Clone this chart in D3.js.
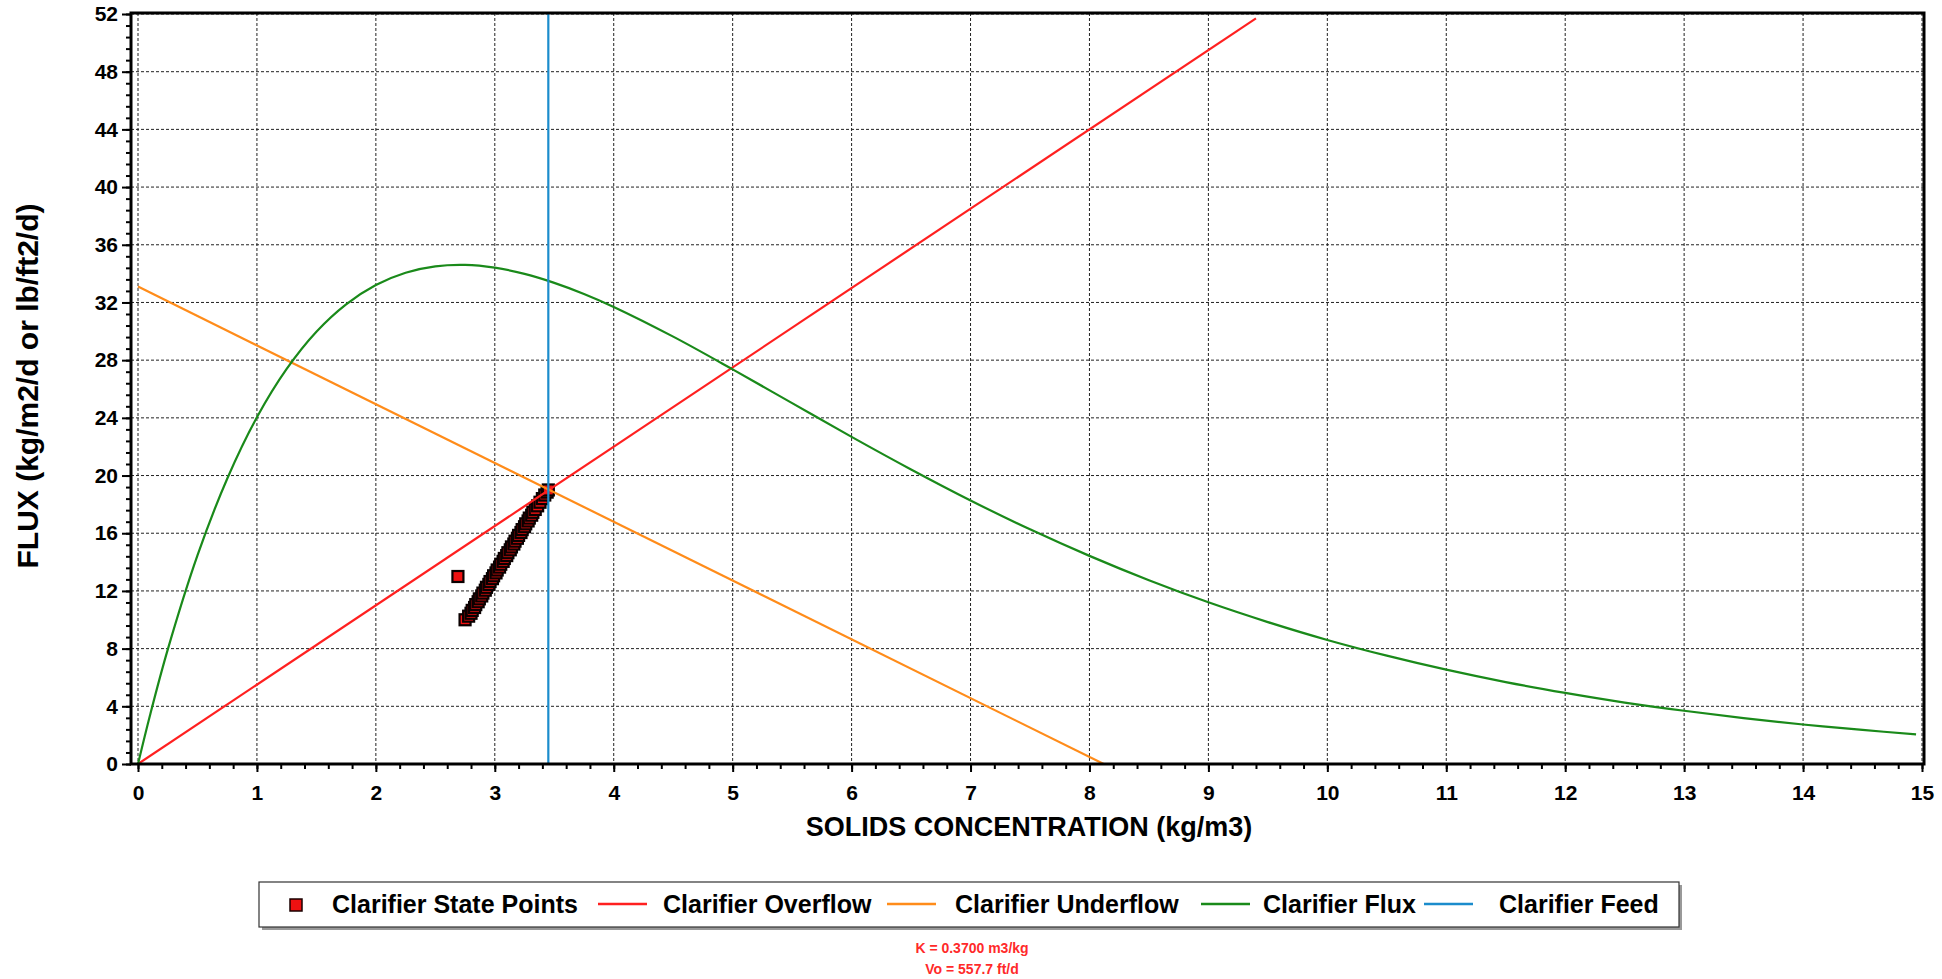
<!DOCTYPE html>
<html>
<head>
<meta charset="utf-8">
<script src="https://cdn.jsdelivr.net/npm/d3@7"></script>
<style>
  html, body { margin: 0; padding: 0; background: #ffffff; }
  svg { display: block; }
  text { font-family: "Liberation Sans", Arial, sans-serif; font-weight: bold; }
</style>
</head>
<body>
<svg id="chart" width="1942" height="979"></svg>
<script>
// ---- data ----
const xTickValues = [0,1,2,3,4,5,6,7,8,9,10,11,12,13,14,15];
const yTickValues = [0,4,8,12,16,20,24,28,32,36,40,44,48,52];

const fluxConc = [0,0.1,0.25,0.5,0.75,1,1.25,1.5,1.75,2,2.25,2.5,2.75,3,3.25,3.5,3.75,4,4.5,5,5.5,6,6.5,7,7.5,8,8.5,9,9.5,10,10.5,11,11.5,12,12.5,13,13.5,14,14.5,14.95];
const fluxValues = [0,3.35,7.93,14.46,19.78,24.04,27.39,29.97,31.87,33.21,34.06,34.50,34.60,34.41,33.98,33.36,32.59,31.69,29.63,27.36,25.02,22.68,20.42,18.27,16.27,14.43,12.74,11.21,9.84,8.60,7.51,6.54,5.68,4.93,4.26,3.69,3.18,2.74,2.36,2.06];

const overflowConc = [0, 9.4];
const overflowFlux = [0, 51.7];

const underflowConc = [0, 8.12];
const underflowFlux = [33.1, 0];

const feedConc = [3.45, 3.45];
const feedFlux = [0, 52];

const stateConc = [2.69,2.75,2.78,2.80,2.81,2.83,2.84,2.86,2.87,2.89,2.90,2.92,2.93,2.95,2.96,2.98,2.99,3.01,3.02,3.04,3.05,3.07,3.08,3.10,3.11,3.13,3.14,3.16,3.17,3.19,3.20,3.22,3.23,3.25,3.26,3.28,3.29,3.31,3.32,3.34,3.36,3.38,3.40,3.42,3.44,3.45];
const stateFlux = [13.0,10.0,10.25,10.45,10.65,10.85,11.05,11.25,11.45,11.65,11.85,12.05,12.25,12.45,12.65,12.85,13.05,13.25,13.45,13.65,13.85,14.05,14.25,14.45,14.65,14.85,15.05,15.25,15.45,15.65,15.85,16.05,16.25,16.45,16.65,16.85,17.05,17.25,17.45,17.65,17.9,18.15,18.4,18.65,18.85,19.0];

const legendLabels = ["Clarifier State Points","Clarifier Overflow","Clarifier Underflow","Clarifier Flux","Clarifier Feed"];
const seriesColors = ["#ee1111","#ff2020","#ff8c1a","#1a8a1a","#1b8ccc"];
const annotationLines = ["K  = 0.3700 m3/kg","Vo = 557.7 ft/d"];

// ---- layout ----
const svg = d3.select("#chart");
const frame = {left: 131, right: 1924, top: 13, bottom: 764};
const x = d3.scaleLinear().domain([0, 15]).range([138, 1922]);
const y = d3.scaleLinear().domain([0, 52]).range([764, 14]);

// grid
const grid = svg.append("g").attr("stroke", "#222").attr("stroke-width", 1).attr("stroke-dasharray", "3,2");
grid.selectAll("line.v").data(xTickValues).join("line")
  .attr("x1", d => x(d)).attr("x2", d => x(d))
  .attr("y1", frame.top).attr("y2", frame.bottom);
grid.selectAll("line.h").data(yTickValues).join("line")
  .attr("x1", frame.left).attr("x2", frame.right)
  .attr("y1", d => y(d)).attr("y2", d => y(d));

// state points (drawn under lines)
const ms = 11;
svg.append("g").selectAll("rect").data(stateConc.map((c, i) => [c, stateFlux[i]])).join("rect")
  .attr("x", d => x(d[0]) - ms / 2).attr("y", d => y(d[1]) - ms / 2)
  .attr("width", ms).attr("height", ms)
  .attr("fill", seriesColors[0]).attr("stroke", "#0a0000").attr("stroke-width", 2.2);

function drawSeries(cs, vs, color, curve) {
  const line = d3.line().x(d => x(d[0])).y(d => y(d[1])).curve(curve || d3.curveLinear);
  svg.append("path").datum(cs.map((c, i) => [c, vs[i]]))
    .attr("d", line).attr("fill", "none").attr("stroke", color).attr("stroke-width", 2.2);
}
drawSeries(overflowConc, overflowFlux, seriesColors[1]);
drawSeries(underflowConc, underflowFlux, seriesColors[2]);
drawSeries(fluxConc, fluxValues, seriesColors[3], d3.curveCatmullRom.alpha(0.5));
drawSeries(feedConc, feedFlux, seriesColors[4]);

// frame
svg.append("rect").attr("x", frame.left).attr("y", frame.top)
  .attr("width", frame.right - frame.left).attr("height", frame.bottom - frame.top)
  .attr("fill", "none").attr("stroke", "#000").attr("stroke-width", 3);

// axes
const yMinor = d3.range(0, 52.01, 0.8);
const xMinor = d3.range(0, 15.01, 0.2);
const yAxisMinor = svg.append("g").attr("transform", `translate(${frame.left},0)`)
  .call(d3.axisLeft(y).tickValues(yMinor).tickSize(5).tickFormat(""));
const yAxis = svg.append("g").attr("transform", `translate(${frame.left},0)`)
  .call(d3.axisLeft(y).tickValues(yTickValues).tickSize(9).tickPadding(4).tickFormat(d3.format("d")));
const xAxisMinor = svg.append("g").attr("transform", `translate(0,${frame.bottom})`)
  .call(d3.axisBottom(x).tickValues(xMinor).tickSize(5).tickFormat(""));
const xAxis = svg.append("g").attr("transform", `translate(0,${frame.bottom})`)
  .call(d3.axisBottom(x).tickValues(xTickValues).tickSize(8).tickPadding(13).tickFormat(d3.format("d")));
[yAxisMinor, yAxis, xAxisMinor, xAxis].forEach(g => {
  g.select(".domain").remove();
  g.selectAll(".tick line").attr("stroke", "#000").attr("stroke-width", 2);
});
[yAxis, xAxis].forEach(g => g.selectAll("text").attr("fill", "#000")
  .style("font-size", "21px").style("font-family", "'Liberation Sans', Arial, sans-serif").style("font-weight", "bold"));

// axis titles
svg.append("text").attr("x", 1029).attr("y", 836).attr("text-anchor", "middle")
  .style("font-size", "27px").attr("fill", "#000").text("SOLIDS CONCENTRATION (kg/m3)");
svg.append("text").attr("transform", "translate(38,386) rotate(-90)").attr("text-anchor", "middle")
  .style("font-size", "30px").attr("fill", "#000").text("FLUX (kg/m2/d or lb/ft2/d)");

// legend
const lg = svg.append("g");
lg.append("rect").attr("x", 262).attr("y", 885).attr("width", 1420).attr("height", 45).attr("fill", "#999");
lg.append("rect").attr("x", 259).attr("y", 882).attr("width", 1420).attr("height", 45)
  .attr("fill", "#fff").attr("stroke", "#333").attr("stroke-width", 1.2);
const lineStarts = [null, 598, 887, 1201, 1424];
const textStarts = [332, 663, 955, 1263, 1499];
lg.append("rect").attr("x", 296 - 6).attr("y", 905 - 6).attr("width", 12).attr("height", 12)
  .attr("fill", seriesColors[0]).attr("stroke", "#1a0000").attr("stroke-width", 1.5);
legendLabels.forEach((lab, i) => {
  if (lineStarts[i] !== null) {
    lg.append("line").attr("x1", lineStarts[i]).attr("x2", lineStarts[i] + 49)
      .attr("y1", 904).attr("y2", 904).attr("stroke", seriesColors[i]).attr("stroke-width", 2.5);
  }
  lg.append("text").attr("x", textStarts[i]).attr("y", 913).style("font-size", "25px")
    .attr("fill", "#000").text(lab);
});

// annotation
annotationLines.forEach((t, i) => {
  svg.append("text").attr("x", 972).attr("y", 953 + i * 21).attr("text-anchor", "middle")
    .style("font-size", "14px").attr("fill", "#ff2a2a").text(t);
});
</script>
</body>
</html>
